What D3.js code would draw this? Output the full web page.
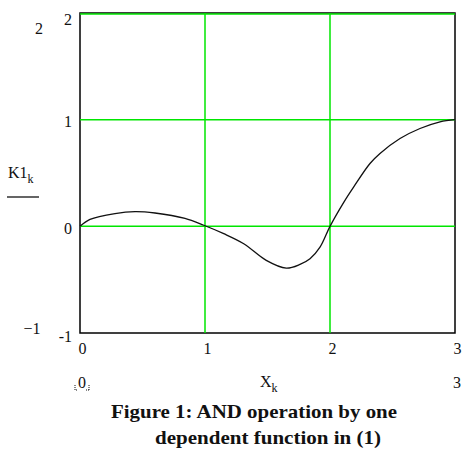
<!DOCTYPE html>
<html>
<head>
<meta charset="utf-8">
<script src="https://cdn.jsdelivr.net/npm/d3@7"></script>
<style>
  body { margin: 0; background: #fff; }
  text { font-family: "Liberation Serif", "Times New Roman", serif; fill: #111; }
</style>
</head>
<body>
<script>
// K1(X) curve
var xs = [0, 0.08, 0.28, 0.44, 0.6, 0.84, 0.99, 1.15, 1.31, 1.49, 1.65, 1.76, 1.84, 1.92, 2.0, 2.11, 2.19, 2.32, 2.4, 2.56, 2.72, 2.88, 3.0];
var ys = [0, 0.065, 0.12, 0.138, 0.125, 0.074, 0.01, -0.069, -0.163, -0.319, -0.392, -0.357, -0.304, -0.195, 0, 0.225, 0.37, 0.589, 0.683, 0.823, 0.917, 0.98, 1.0];
var xTicks = [0, 1, 2, 3];
var yTicks = [2, 1, 0, -1];
var xGrid = [1, 2];
var yGrid = [0, 1, 2];

var W = 470, H = 455;
var svg = d3.select("body").append("svg")
            .attr("width", W)
            .attr("height", H);

var x = d3.scaleLinear().domain([0, 3]).range([80, 455]);
var y = d3.scaleLinear().domain([-1, 2]).range([333, 13]);

// frame
svg.append("rect")
   .attr("x", x(0)).attr("y", y(2))
   .attr("width", x(3) - x(0)).attr("height", y(-1) - y(2))
   .attr("fill", "none").attr("stroke", "#000").attr("stroke-width", 1.5);

// green grid
svg.selectAll("line.gx")
   .data(xGrid)
   .enter().append("line")
   .attr("class", "gx")
   .attr("x1", function(d) { return x(d); })
   .attr("x2", function(d) { return x(d); })
   .attr("y1", y(2)).attr("y2", y(-1))
   .attr("stroke", "#00e600").attr("stroke-width", 1.5);

svg.selectAll("line.gy")
   .data(yGrid)
   .enter().append("line")
   .attr("class", "gy")
   .attr("x1", x(0)).attr("x2", x(3))
   .attr("y1", function(d) { return y(d) + (d == 2 ? 1 : 0); })
   .attr("y2", function(d) { return y(d) + (d == 2 ? 1 : 0); })
   .attr("stroke", "#00e600").attr("stroke-width", 1.5);

// curve
var pts = xs.map(function(d, i) { return [d, ys[i]]; });
svg.append("path")
   .datum(pts)
   .attr("fill", "none")
   .attr("stroke", "#111")
   .attr("stroke-width", 1.3)
   .attr("d", d3.line()
               .curve(d3.curveCatmullRom)
               .x(function(d) { return x(d[0]); })
               .y(function(d) { return y(d[1]); }));

// axes, labels only
var ya = svg.append("g")
            .attr("transform", "translate(" + x(0) + ",0)")
            .call(d3.axisLeft(y).tickValues(yTicks).tickSize(0).tickPadding(8)
                    .tickFormat(function(d) { return d < 0 ? "-1" : d; }));
ya.select(".domain").remove();
ya.selectAll("text")
  .style("font-size", "16px")
  .style("font-family", "Liberation Serif")
  .attr("fill", "#111")
  .attr("dy", function(d) { return d == 2 ? "0.7em" : d == -1 ? "0.55em" : "0.45em"; });

var xa = svg.append("g")
            .attr("transform", "translate(0," + y(-1) + ")")
            .call(d3.axisBottom(x).tickValues(xTicks).tickSize(0).tickPadding(10)
                    .tickFormat(d3.format("d")));
xa.select(".domain").remove();
xa.selectAll("text")
  .style("font-size", "16px")
  .style("font-family", "Liberation Serif")
  .attr("fill", "#111")
  .attr("dx", 2);

// outer range labels
svg.append("text").attr("x", 39).attr("y", 34)
   .attr("text-anchor", "middle").style("font-size", "16px").text("2");
svg.append("text").attr("x", 32).attr("y", 334)
   .attr("text-anchor", "middle").style("font-size", "16px").text("\u22121");
svg.append("text").attr("x", 457).attr("y", 388)
   .attr("text-anchor", "middle").style("font-size", "16px").text("3");

// lower-left placeholder
svg.append("text").attr("x", 82).attr("y", 388)
   .attr("text-anchor", "middle").style("font-size", "16px").text("0");
svg.append("path")
   .attr("d", "M75,385 L75,390 L78,390 M89,390 L86,390 M89,385 L89,390")
   .attr("fill", "none").attr("stroke", "#111").attr("stroke-width", 1)
   .attr("stroke-dasharray", "1,1");

// axis names
var kl = svg.append("text").attr("x", 8).attr("y", 178).style("font-size", "16px");
kl.append("tspan").text("K1");
kl.append("tspan").attr("dy", 5).style("font-size", "12px").text("k");
svg.append("line")
   .attr("x1", 7).attr("x2", 39).attr("y1", 197).attr("y2", 197)
   .attr("stroke", "#111").attr("stroke-width", 1.3);

var xl = svg.append("text").attr("x", 260).attr("y", 387).style("font-size", "16px");
xl.append("tspan").text("X");
xl.append("tspan").attr("dy", 5).style("font-size", "12px").text("k");

// caption
svg.append("text").attr("x", 111).attr("y", 418)
   .style("font-size", "19px").style("font-weight", "bold")
   .attr("textLength", 286).attr("lengthAdjust", "spacingAndGlyphs")
   .text("Figure 1: AND operation by one");
svg.append("text").attr("x", 155).attr("y", 444)
   .style("font-size", "19px").style("font-weight", "bold")
   .attr("textLength", 226).attr("lengthAdjust", "spacingAndGlyphs")
   .text("dependent function in (1)");
</script>
</body>
</html>
